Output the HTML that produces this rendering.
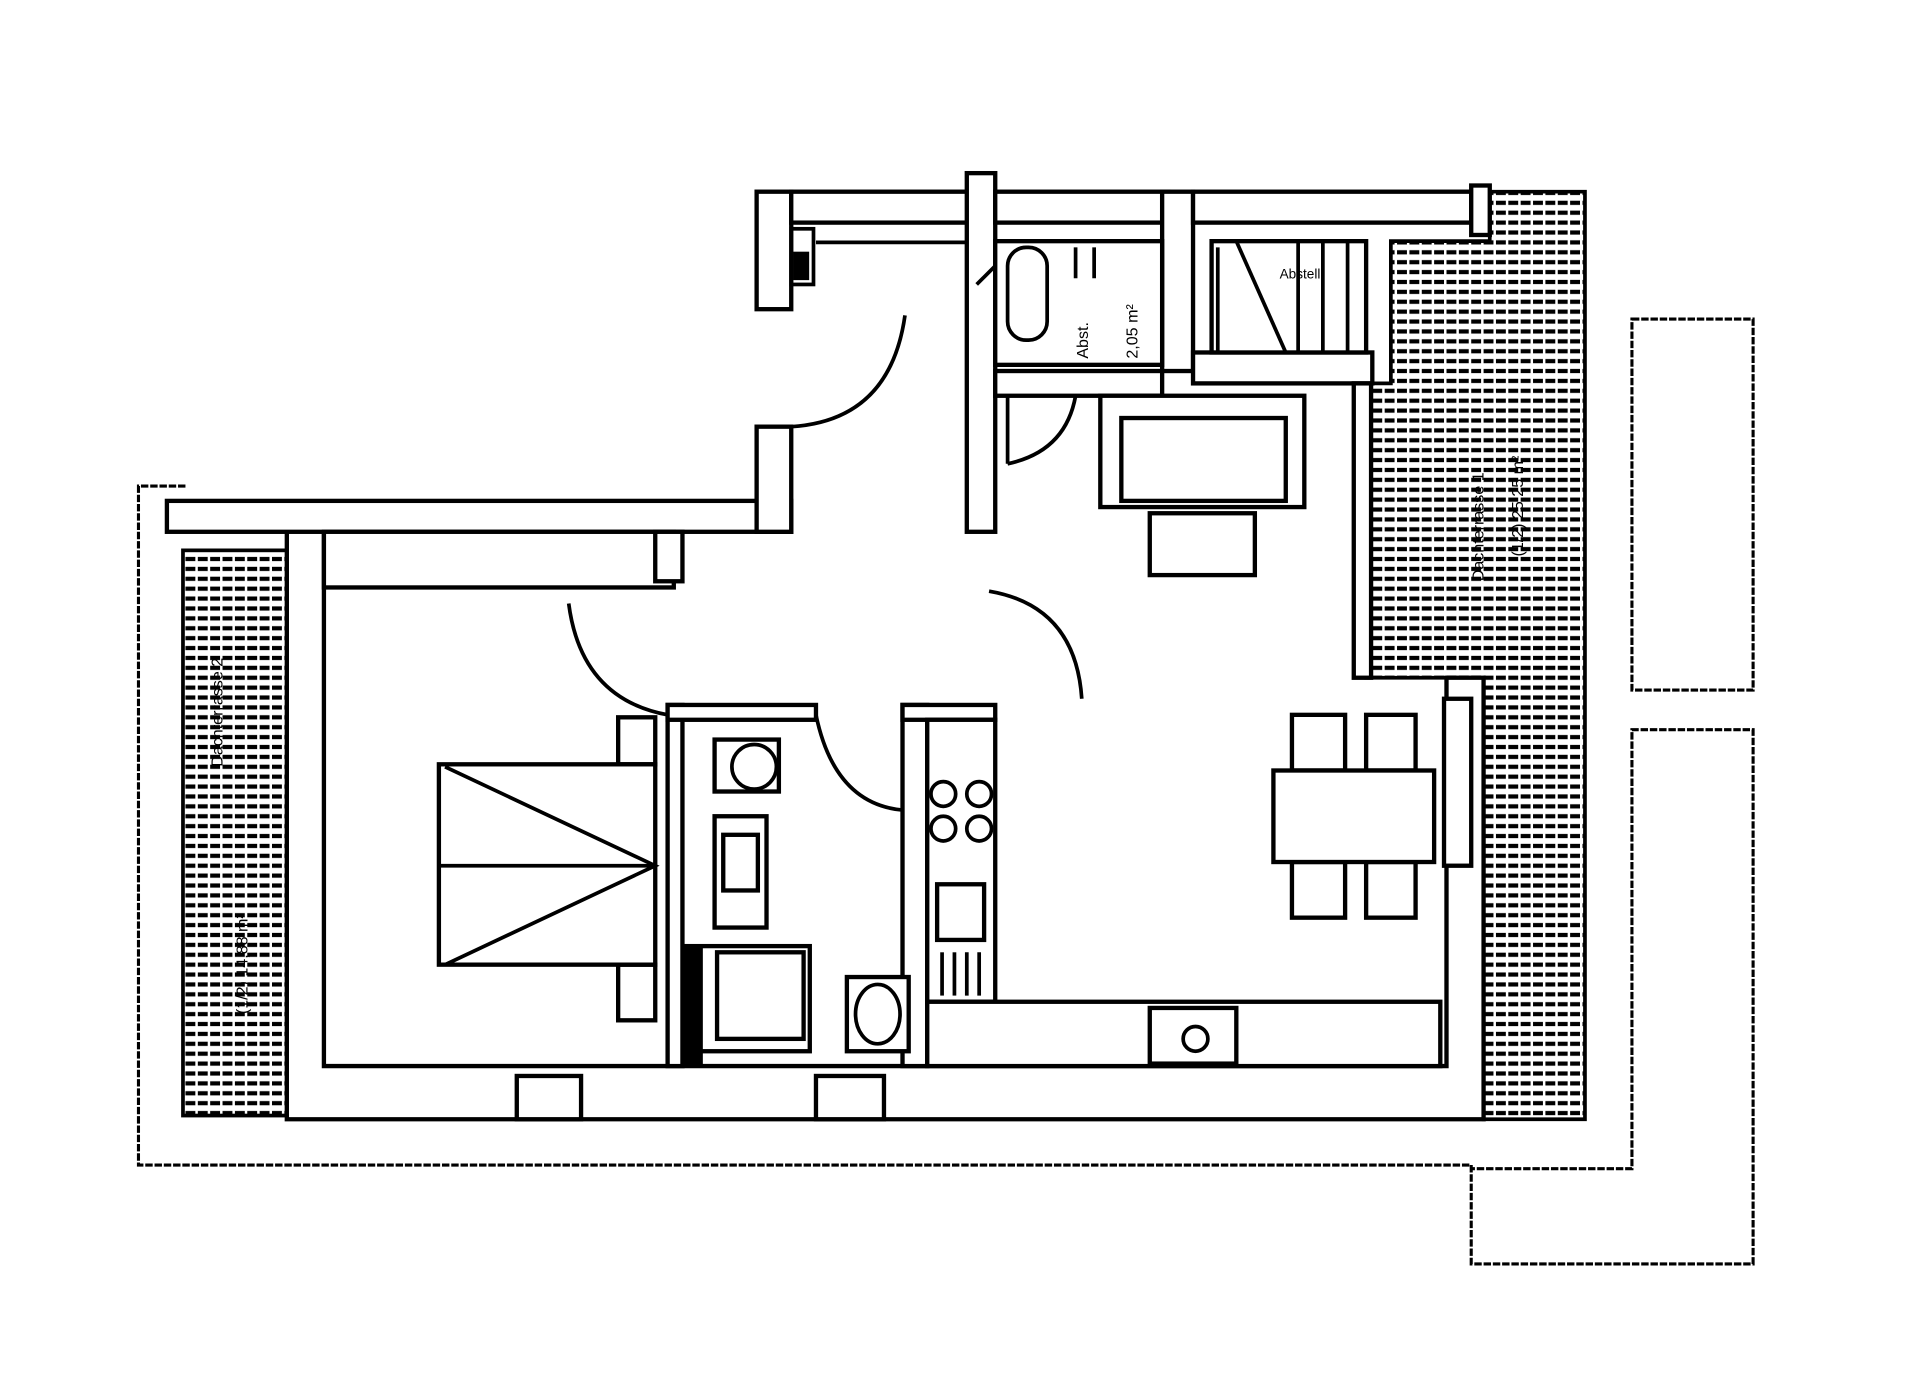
<!DOCTYPE html>
<html><head><meta charset="utf-8"><style>html,body{margin:0;padding:0;background:#fff}svg{display:block}</style></head>
<body>
<svg width="1920" height="1400" viewBox="0 0 1553 1132" preserveAspectRatio="none" xmlns="http://www.w3.org/2000/svg">
<defs>
<pattern id="h" width="10" height="8" patternUnits="userSpaceOnUse"><rect width="10" height="8" fill="#fff"/><line x1="0" y1="4" x2="10" y2="4" stroke="#000" stroke-width="3.4" stroke-dasharray="8 2"/></pattern>
</defs>
<rect width="1553" height="1132" fill="#fff"/>
<g fill="none" stroke="#000" stroke-width="2.5" stroke-dasharray="6 1.5">
<polyline points="150,393 112,393 112,942 1190,942 1190,1022 1418,1022 1418,590 1320,590 1320,945 1190,945"/>
<rect x="1320" y="258" width="98" height="300"/>
<line x1="1282" y1="155" x2="1282" y2="905"/>
</g>
<rect x="148" y="445" width="84" height="457" fill="url(#h)" stroke="#000" stroke-width="3"/>
<polygon points="1205,155 1282,155 1282,905 1200,905 1200,548 1105,548 1105,310 1125,310 1125,195 1205,195" fill="url(#h)" stroke="#000" stroke-width="3"/>
<g fill="#fff" stroke="#000" stroke-width="3.5">
<path d="M232,425 L232,905 L1200,905 L1200,548 L1170,548 L1170,862 L262,862 L262,430 Z"/>
<rect x="135" y="405" width="505" height="25"/>
<rect x="612" y="345" width="28" height="85"/>
<rect x="612" y="155" width="28" height="95"/>
<rect x="640" y="155" width="145" height="25"/>
<rect x="782" y="140" width="23" height="290"/>
<rect x="805" y="155" width="140" height="25"/>
<rect x="940" y="155" width="25" height="145"/>
<rect x="965" y="155" width="225" height="25"/>
<rect x="1190" y="150" width="15" height="40"/>
<rect x="965" y="285" width="145" height="25"/>
<rect x="805" y="300" width="135" height="20"/>
<rect x="1095" y="310" width="14" height="238"/>
<rect x="262" y="430" width="283" height="45"/>
<rect x="530" y="430" width="22" height="40"/>
<rect x="540" y="570" width="12" height="292"/>
<rect x="540" y="570" width="120" height="12"/>
<rect x="730" y="570" width="20" height="292"/>
<rect x="730" y="570" width="75" height="12"/>
<rect x="1168" y="565" width="22" height="135"/>
<rect x="750" y="582" width="55" height="228"/>
<rect x="750" y="810" width="415" height="52"/>
<rect x="930" y="815" width="70" height="45"/>
<rect x="890" y="320" width="165" height="90"/>
<rect x="907" y="338" width="133" height="67"/>
<rect x="930" y="415" width="85" height="50"/>
<rect x="1045" y="578" width="43" height="45"/>
<rect x="1105" y="578" width="40" height="45"/>
<rect x="1045" y="697" width="43" height="45"/>
<rect x="1105" y="697" width="40" height="45"/>
<rect x="1030" y="623" width="130" height="74"/>
<rect x="500" y="580" width="30" height="38"/>
<rect x="500" y="780" width="30" height="45"/>
<rect x="355" y="618" width="175" height="162"/>
<rect x="578" y="598" width="52" height="42"/>
<rect x="578" y="660" width="42" height="90"/>
<rect x="585" y="675" width="28" height="45"/>
<rect x="555" y="765" width="100" height="85"/>
<rect x="580" y="770" width="70" height="70"/>
<rect x="685" y="790" width="50" height="60"/>
<rect x="758" y="715" width="38" height="45"/>
<rect x="418" y="870" width="52" height="35"/>
<rect x="660" y="870" width="55" height="35"/>
<rect x="980" y="195" width="125" height="90"/>
<rect x="805" y="195" width="135" height="100"/>
</g>
<g fill="none" stroke="#000" stroke-width="3">
<line x1="660" y1="196" x2="782" y2="196"/>
<line x1="355" y1="700" x2="530" y2="700"/>
<polyline points="360,620 530,700 360,780"/>
<ellipse cx="610" cy="620" rx="18" ry="18"/>
<ellipse cx="710" cy="820" rx="18" ry="24"/>
<circle cx="967" cy="840" r="10"/>
<circle cx="763" cy="642" r="10"/><circle cx="792" cy="642" r="10"/>
<circle cx="763" cy="670" r="10"/><circle cx="792" cy="670" r="10"/>
<line x1="762" y1="770" x2="762" y2="805"/><line x1="772" y1="770" x2="772" y2="805"/><line x1="782" y1="770" x2="782" y2="805"/><line x1="792" y1="770" x2="792" y2="805"/>
<path d="M460,488 Q470,565 540,578"/>
<path d="M800,478 Q870,490 875,565"/>
<path d="M660,578 Q675,650 730,655"/>
<path d="M732,255 Q720,340 640,345"/>
<path d="M815,375 Q862,365 870,320"/>
<line x1="815" y1="320" x2="815" y2="375"/>
<line x1="1000" y1="195" x2="1040" y2="285"/>
<line x1="1050" y1="195" x2="1050" y2="285"/><line x1="1070" y1="195" x2="1070" y2="285"/><line x1="1090" y1="195" x2="1090" y2="285"/>
<line x1="985" y1="200" x2="985" y2="285"/>
<rect x="815" y="200" width="32" height="75" rx="15"/>
<line x1="870" y1="200" x2="870" y2="225"/><line x1="885" y1="200" x2="885" y2="225"/>
<line x1="790" y1="230" x2="805" y2="215"/>
<rect x="555" y="765" width="12" height="95" fill="#000"/>
<rect x="640" y="185" width="18" height="45"/>
<rect x="643" y="205" width="10" height="20" fill="#000"/>
</g>
<g font-family="Liberation Sans, sans-serif" font-size="13" fill="#000">
<text transform="translate(180,620) rotate(-90)">Dachterrasse 2</text>
<text transform="translate(200,820) rotate(-90)">(1/2) 14,88 m²</text>
<text transform="translate(1200,470) rotate(-90)">Dachterrasse 1</text>
<text transform="translate(1232,450) rotate(-90)">(1/2) 25,25 m²</text>
<text transform="translate(880,290) rotate(-90)">Abst.</text>
<text transform="translate(920,290) rotate(-90)">2,05 m²</text>
<text x="1035" y="225" font-size="11">Abstell.</text>
</g>
</svg>
</body></html>
